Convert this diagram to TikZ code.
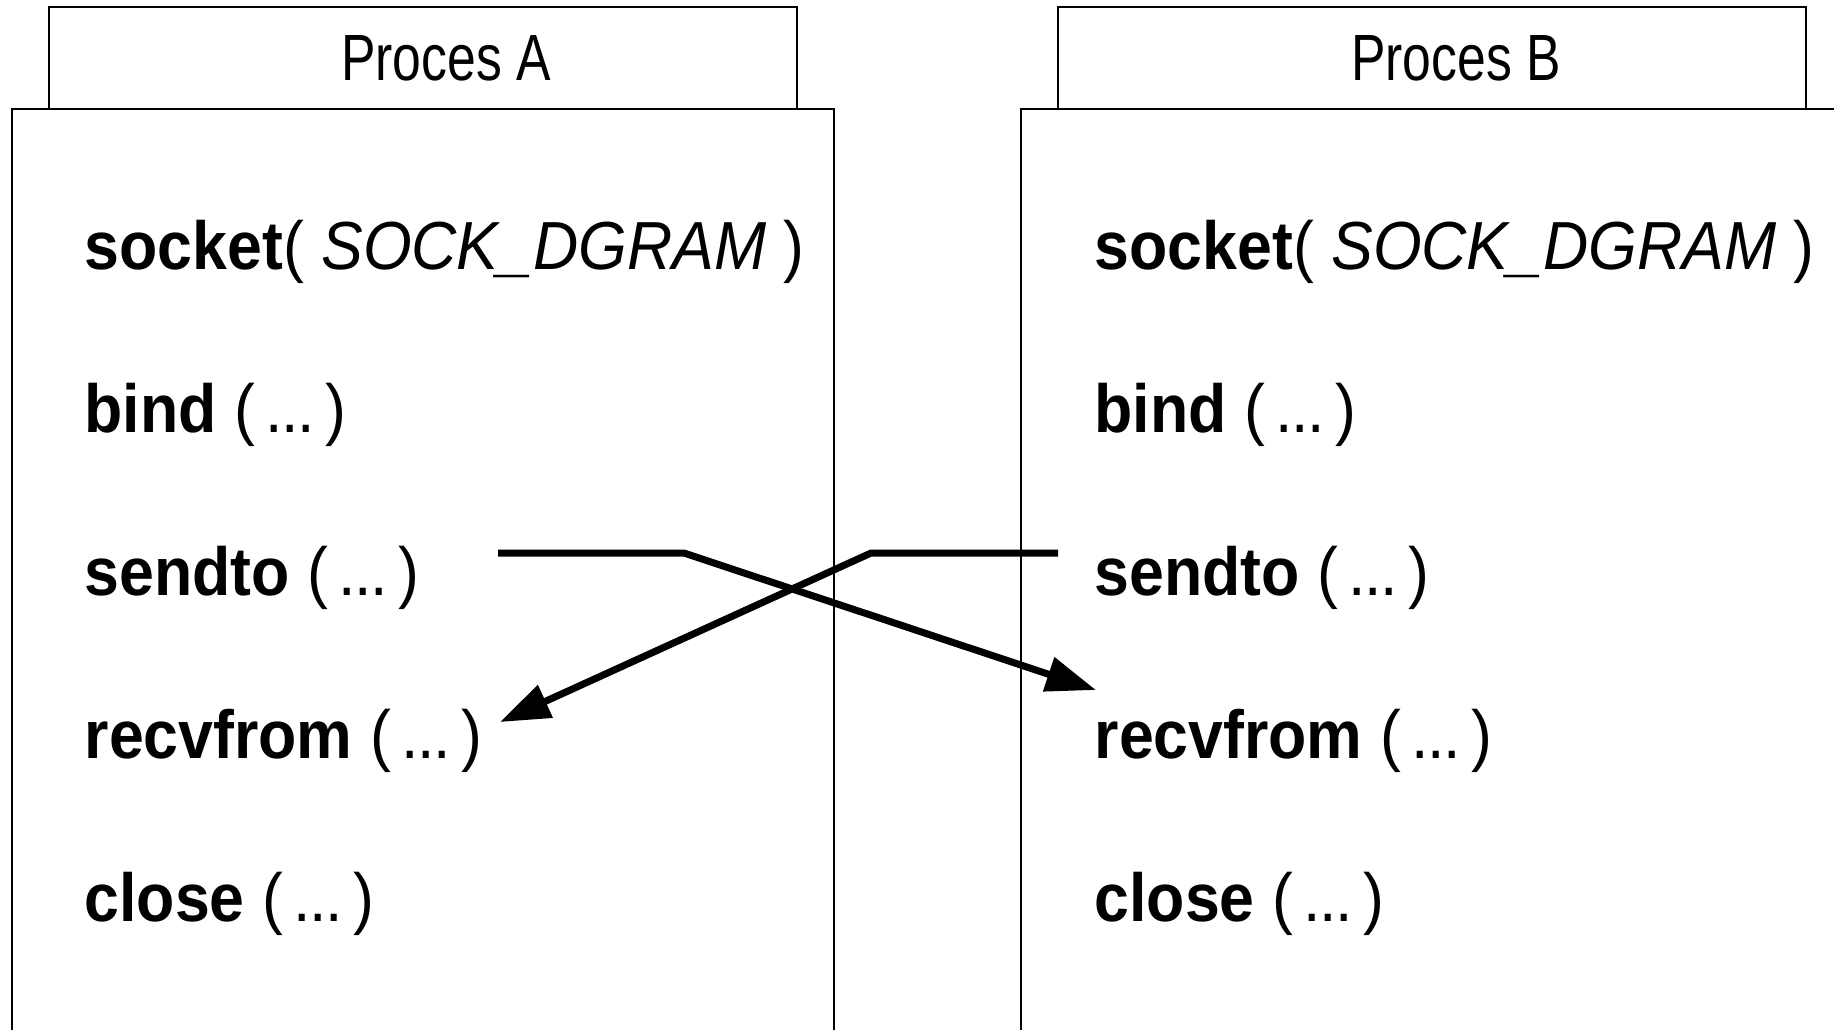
\documentclass[tikz,border=0pt]{standalone}
\usepackage{fontspec}
\setmainfont{Liberation Sans}[FakeStretch=0.92]
\newfontfamily\headfont{Liberation Sans}[FakeStretch=0.79]
\usetikzlibrary{arrows.meta}

\newcommand\args{(\hspace{2.9pt}.\kern-0.4pt.\kern-0.4pt.\hspace{3.2pt})}

\begin{document}
\begin{tikzpicture}[x=0.01cm,y=-0.01cm,
    procbox/.style={draw,line width=0.4pt},
    head/.style={inner sep=0pt,font=\headfont\fontsize{18.6}{22}\selectfont},
    call/.style={anchor=base west,inner sep=0pt,font=\fontsize{19.35}{23}\selectfont},
    msg/.style={line width=2pt,-{Triangle[length=14.2pt,width=9.8pt]}}]
    \useasboundingbox (0,0) rectangle (1834,1029);
    \clip (0,0) rectangle (1834,1029);

    % process A
    \draw[procbox] (49,7) rectangle (797,109);
    \node[head] (hdA) at (446,58) {Proces A};
    \draw[procbox] (12,1100) -- (12,109) -- (834,109) -- (834,1100);

    % process B
    \draw[procbox] (1058,7) rectangle (1806,109);
    \node[head] (hdB) at (1456,58) {Proces B};
    \draw[procbox] (1021,1100) -- (1021,109) -- (1900,109) -- (1900,1100);

    \foreach \x/\p in {84/A,1094/B} {
        \node[call] (sock\p)  at (\x,269) {\textbf{socket}( \textit{SOCK\_DGRAM} )};
        \node[call] (bind\p)  at (\x,432) {\textbf{bind} \args};
        \node[call] (send\p)  at (\x,595) {\textbf{sendto} \args};
        \node[call] (recv\p)  at (\x,758) {\textbf{recvfrom} \args};
        \node[call] (close\p) at (\x,921) {\textbf{close} \args};
    }

    % datagrams
    \coordinate (outA) at (498,553);
    \coordinate (bendA) at (684,553);
    \coordinate (inB) at (1096,690);
    \draw[msg] (outA) -- (bendA) -- (inB);

    \coordinate (outB) at (1058,553);
    \coordinate (bendB) at (871,553);
    \coordinate (inA) at (500,722);
    \draw[msg] (outB) -- (bendB) -- (inA);

\end{tikzpicture}
\end{document}
